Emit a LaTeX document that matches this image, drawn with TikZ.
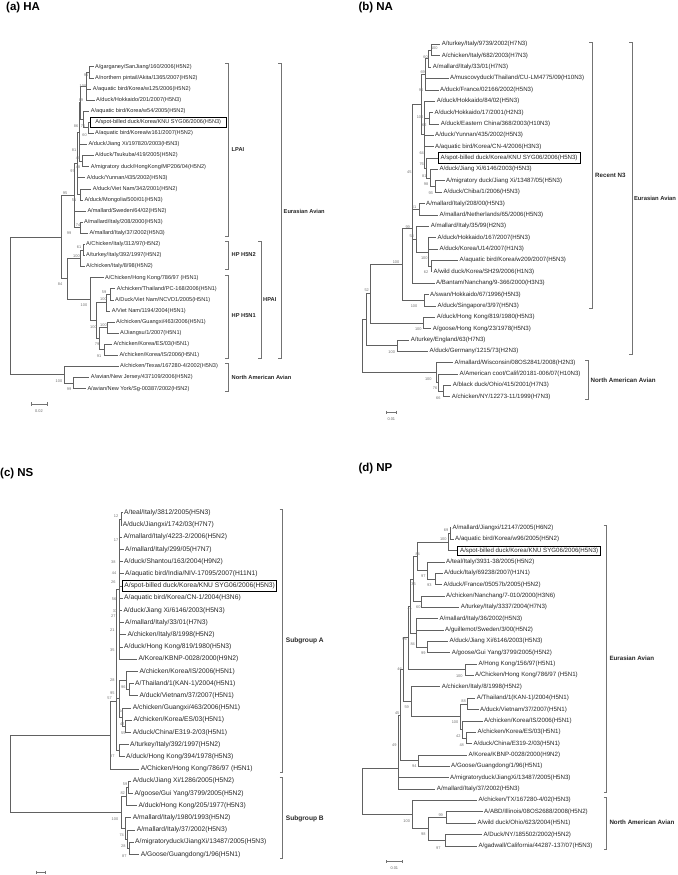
\documentclass[tikz,border=0pt]{standalone}
\usepackage{fontspec}
\setmainfont{Liberation Sans}
\newcounter{bsn}
\newcommand\cl[2]{\foreach \ch in {#2}{\draw[br] (#1) -- (#1 |- \ch) -- (\ch);}}
\newcommand\lv[4]{\node[lf] (#1) at (#2-1.5,#3) {#4};}
\newcommand\bv[3]{\stepcounter{bsn}\node[bs] (bs\arabic{bsn}) at (#1,#2) {#3};}
\newcommand\brk[3]{\draw[brs] (#1-3,#2) -- (#1,#2) -- (#1,#3) -- (#1-3,#3);}
\newcommand\sbar[3]{\draw[brs] (#1,#3) -- (#2,#3); \draw[brs] (#1,#3-1.6) -- (#1,#3+1.6); \draw[brs] (#2,#3-1.6) -- (#2,#3+1.6);}
\begin{document}
\begin{tikzpicture}[x=1pt,y=-1pt,
  br/.style={draw=black!62,line width=0.55pt},
  brs/.style={draw=black!55,line width=0.55pt},
  leaf/.style={anchor=west,inner xsep=1.5pt,inner ysep=0.4pt,text=black!85},
  boxed/.style={draw=black,line width=0.7pt},
  bs/.style={inner sep=0pt,text=black!55,font=\fontsize{3.9}{4}\selectfont},
  cladelbl/.style={anchor=west,inner sep=0pt,text=black!85,font=\bfseries\fontsize{#1}{#1}\selectfont},
  ttl/.style={anchor=base west,inner sep=0pt,font=\bfseries\fontsize{11.5}{12}\selectfont},
  sbl/.style={inner sep=0pt,text=black!60,font=\fontsize{3.9}{4}\selectfont}]
\useasboundingbox (0,0) rectangle (677,875);

% ================= (a) HA =================
\begin{scope}[lf/.style={leaf,font=\fontsize{5.6}{6}\selectfont}]
\node[ttl] (ta) at (6,10.3) {(a) HA};
\lv{a0}{95}{66.7}{A/garganey/SanJiang/160/2006(H5N2)}
\lv{a1}{95}{77.8}{A/northern pintail/Akita/1365/2007(H5N2)}
\lv{a2}{92.7}{88.9}{A/aquatic bird/Korea/w125/2006(H5N2)}
\lv{a3}{96}{100}{A/duck/Hokkaido/201/2007(H5N3)}
\lv{a4}{90.7}{111.1}{A/aquatic bird/Korea/w54/2005(H5N2)}
\node[lf,boxed,inner xsep=5pt,inner ysep=2.7pt] (a5) at (90,122.2) {A/spot-billed duck/Korea/KNU SYG06/2006(H5N3)};
\lv{a6}{95}{133.3}{A/aquatic bird/Korea/w161/2007(H5N2)}
\lv{a7}{88.3}{144.4}{A/duck/Jiang Xi/197820/2003(H5N3)}
\lv{a8}{95}{155.5}{A/duck/Tsukuba/419/2005(H5N2)}
\lv{a9}{90.7}{166.6}{A/migratory duck/HongKong/MP206/04(H5N2)}
\lv{a10}{86.7}{177.7}{A/duck/Yunnan/435/2002(H5N3)}
\lv{a11}{92.7}{188.8}{A/duck/Viet Nam/342/2001(H5N2)}
\lv{a12}{84.3}{199.9}{A/duck/Mongolia/500/01(H5N3)}
\lv{a13}{87.3}{211}{A/mallard/Sweden/64/02(H5N2)}
\lv{a14}{84}{222.1}{A/mallard/Italy/208/2000(H5N3)}
\lv{a15}{89.3}{233.2}{A/mallard/Italy/37/2002(H5N3)}
\lv{a16}{86}{244.3}{A/Chicken/Italy/312/97(H5N2)}
\lv{a17}{86}{255.4}{A/turkey/Italy/392/1997(H5N2)}
\lv{a18}{86}{266.5}{A/chicken/Italy/8/98(H5N2)}
\lv{a19}{105}{277.6}{A/Chicken/Hong Kong/786/97 (H5N1)}
\lv{a20}{116.7}{288.7}{A/chicken/Thailand/PC-168/2006(H5N1)}
\lv{a21}{115}{299.8}{A/Duck/Viet Nam/NCVD1/2005(H5N1)}
\lv{a22}{111.7}{310.9}{A/Viet Nam/1194/2004(H5N1)}
\lv{a23}{116}{322}{A/chicken/Guangxi/463/2006(H5N1)}
\lv{a24}{120}{333.1}{A/Jiangsu/1/2007(H5N1)}
\lv{a25}{113.3}{344.2}{A/chicken/Korea/ES/03(H5N1)}
\lv{a26}{119.3}{355.3}{A/chicken/Korea/IS/2006(H5N1)}
\lv{a27}{120}{366.4}{A/chicken/Texas/167280-4/2002(H5N3)}
\lv{a28}{90.7}{377.5}{A/avian/New Jersey/437109/2006(H5N2)}
\lv{a29}{87.3}{388.6}{A/avian/New York/Sg-00387/2002(H5N2)}
\coordinate (a-n1) at (89,72.25);
\coordinate (a-n2) at (86.5,86.1);
\coordinate (a-k4) at (88,127.75);
\coordinate (a-k) at (83.5,119.4);
\coordinate (a-n3) at (80.5,102.75);
\coordinate (a-t) at (82,161.05);
\coordinate (a-s) at (79,131.9);
\coordinate (a-n5) at (80,194.35);
\coordinate (a-u) at (77.5,163.1);
\coordinate (a-m) at (80.5,227.65);
\coordinate (a-l) at (74.5,195.4);
\coordinate (a-p1) at (83,249.85);
\coordinate (a-p) at (80,258.2);
\coordinate (a-q3a) at (110,294.25);
\coordinate (a-q3) at (106,302.6);
\coordinate (a-q5) at (107,327.55);
\coordinate (a-q6) at (104,349.75);
\coordinate (a-q4) at (99,338.65);
\coordinate (a-q2) at (96,320.6);
\coordinate (a-q) at (90,299.1);
\coordinate (a-h) at (67,278.65);
\coordinate (a-e) at (61,237);
\coordinate (a-na2) at (73,383.05);
\coordinate (a-na) at (64,374.7);
\coordinate (a-r) at (10,305.85);
\cl{a-n1}{a0,a1}
\cl{a-n2}{a-n1,a2,a3}
\cl{a-k4}{a5,a6}
\cl{a-k}{a4,a-k4}
\cl{a-n3}{a-n2,a-k}
\cl{a-t}{a8,a9}
\cl{a-s}{a-n3,a7,a-t}
\cl{a-n5}{a11,a12}
\cl{a-u}{a-s,a10,a-n5}
\cl{a-m}{a14,a15}
\cl{a-l}{a-u,a13,a-m}
\cl{a-p1}{a16,a17}
\cl{a-p}{a-p1,a18}
\cl{a-q3a}{a20,a21}
\cl{a-q3}{a-q3a,a22}
\cl{a-q5}{a23,a24}
\cl{a-q6}{a25,a26}
\cl{a-q4}{a-q5,a-q6}
\cl{a-q2}{a-q3,a-q4}
\cl{a-q}{a19,a-q2}
\cl{a-h}{a-p,a-q}
\cl{a-e}{a-l,a-h}
\cl{a-na2}{a28,a29}
\cl{a-na}{a27,a-na2}
\cl{a-r}{a-e,a-na}
\bv{86}{75}{95}\bv{83}{86}{100}\bv{81}{100}{89}\bv{76}{126}{86}\bv{83}{126}{75}
\bv{84.5}{135}{60}\bv{74}{150}{81}\bv{78}{158}{40}\bv{78}{167}{48}\bv{72.5}{171}{97}
\bv{65}{193}{95}\bv{74}{200}{51}\bv{78}{225}{74}\bv{69}{233}{99}\bv{79}{247}{61}
\bv{76.5}{256}{100}\bv{60}{284}{84}\bv{104}{292}{59}\bv{103.5}{299}{100}\bv{84}{305}{100}
\bv{93.5}{327}{100}\bv{103.5}{325}{100}\bv{97}{344}{79}\bv{99}{356}{91}\bv{59}{381}{100}\bv{69}{389}{99}
\brk{228}{63}{236}\node[cladelbl=5.7] (a-lpai) at (231.5,150) {LPAI};
\brk{228}{241}{269}\node[cladelbl=5.7] (a-h5n2) at (231.5,255) {HP H5N2};
\brk{228}{275}{358}\node[cladelbl=5.7] (a-h5n1) at (231.5,316) {HP H5N1};
\brk{261}{241}{358}\node[cladelbl=5.7] (a-hpai) at (263,300) {HPAI};
\brk{281}{63}{358}\node[cladelbl=5.7] (a-eur) at (283.5,211) {Eurasian Avian};
\brk{228}{363}{391}\node[cladelbl=5.7] (a-nam) at (231.5,377.7) {North American Avian};
\sbar{31}{47}{404}\node[sbl] (a-sb) at (39,411.5) {0.02};
\end{scope}

% ================= (b) NA =================
\begin{scope}[lf/.style={leaf,font=\fontsize{6.1}{6.5}\selectfont}]
\node[ttl] (tb) at (358.3,10.3) {(b) NA};
\lv{b0}{441.7}{44.3}{A/turkey/Italy/9739/2002(H7N3)}
\lv{b1}{441.7}{55.67}{A/chicken/Italy/682/2003(H7N3)}
\lv{b2}{432.7}{67.04}{A/mallard/Italy/33/01(H7N3)}
\lv{b3}{450}{78.41}{A/muscovyduck/Thailand/CU-LM4775/09(H10N3)}
\lv{b4}{440}{89.78}{A/duck/France/02166/2002(H5N3)}
\lv{b5}{436.7}{101.15}{A/duck/Hokkaido/84/02(H5N3)}
\lv{b6}{434.3}{112.52}{A/duck/Hokkaido/17/2001(H2N3)}
\lv{b7}{440.7}{123.89}{A/duck/Eastern China/368/2003(H10N3)}
\lv{b8}{435}{135.26}{A/duck/Yunnan/435/2002(H5N3)}
\lv{b9}{435}{146.63}{A/aquatic bird/Korea/CN-4/2006(H3N3)}
\node[lf,boxed,inner xsep=2.5pt,inner ysep=2.9pt] (b10) at (437.7,158) {A/spot-billed duck/Korea/KNU SYG06/2006(H5N3)};
\lv{b11}{439.3}{169.37}{A/duck/Jiang Xi/6146/2003(H5N3)}
\lv{b12}{446}{180.74}{A/migratory duck/Jiang Xi/13487/05(H5N3)}
\lv{b13}{443.3}{192.11}{A/duck/Chiba/1/2006(H5N3)}
\lv{b14}{426}{203.48}{A/mallard/Italy/208/00(H5N3)}
\lv{b15}{439.3}{214.85}{A/mallard/Netherlands/65/2006(H5N3)}
\lv{b16}{430.7}{226.22}{A/mallard/Italy/35/99(H2N3)}
\lv{b17}{437.3}{237.59}{A/duck/Hokkaido/167/2007(H5N3)}
\lv{b18}{439.3}{248.96}{A/duck/Korea/U14/2007(H1N3)}
\lv{b19}{459.3}{260.33}{A/aquatic bird/Korea/w209/2007(H5N3)}
\lv{b20}{433.3}{271.7}{A/wild duck/Korea/SH29/2006(H1N3)}
\lv{b21}{436}{283.07}{A/Bantam/Nanchang/9-366/2000(H3N3)}
\lv{b22}{430}{294.44}{A/swan/Hokkaido/67/1996(H5N3)}
\lv{b23}{437.3}{305.81}{A/duck/Singapore/3/97(H5N3)}
\lv{b24}{436.7}{317.18}{A/duck/Hong Kong/819/1980(H5N3)}
\lv{b25}{432.7}{328.55}{A/goose/Hong Kong/23/1978(H5N3)}
\lv{b26}{410.7}{339.92}{A/turkey/England/63(H7N3)}
\lv{b27}{429.3}{351.29}{A/duck/Germany/1215/73(H2N3)}
\lv{b28}{454.3}{362.66}{A/mallard/Wisconsin/08OS2841/2008(H2N3)}
\lv{b29}{459.3}{374.03}{A/American coot/Calif/20181-006/07(H10N3)}
\lv{b30}{452.7}{385.4}{A/black duck/Ohio/415/2001(H7N3)}
\lv{b31}{451.7}{396.77}{A/chicken/NY/12273-11/1999(H7N3)}
\coordinate (b-p0) at (431,49.99);
\coordinate (b-p1) at (428,58.5);
\coordinate (b-p2) at (425.5,74.1);
\coordinate (b-h) at (429.5,118.2);
\coordinate (b-f6) at (435,186.4);
\coordinate (b-f5) at (430,177.9);
\coordinate (b-f4) at (426,167.95);
\coordinate (b-f3) at (424,134.55);
\coordinate (b-f2) at (421.7,104.3);
\coordinate (b-mp) at (419.3,209.2);
\coordinate (b-j2) at (431,266);
\coordinate (b-j) at (428,251.8);
\coordinate (b-k) at (416,239);
\coordinate (b-c) at (412,228);
\coordinate (b-d) at (424,300.1);
\coordinate (b-b) at (402,264);
\coordinate (b-hk) at (423.3,322.9);
\coordinate (b-ea2) at (370.7,293.4);
\coordinate (b-eng) at (397.3,345.6);
\coordinate (b-ea) at (366.7,319.5);
\coordinate (b-na3) at (443,391.1);
\coordinate (b-na2) at (438,382.6);
\coordinate (b-na) at (436,372.6);
\coordinate (b-r) at (362.7,346);
\cl{b-p0}{b0,b1}
\cl{b-p1}{b-p0,b2}
\cl{b-p2}{b-p1,b3,b4}
\cl{b-h}{b6,b7}
\cl{b-f6}{b12,b13}
\cl{b-f5}{b11,b-f6}
\cl{b-f4}{b10,b-f5}
\cl{b-f3}{b5,b-h,b8,b9,b-f4}
\cl{b-f2}{b-p2,b-f3}
\cl{b-mp}{b14,b15}
\cl{b-j2}{b19,b20}
\cl{b-j}{b17,b18,b-j2}
\cl{b-k}{b16,b-j}
\cl{b-c}{b-f2,b-mp,b-k,b21}
\cl{b-d}{b22,b23}
\cl{b-b}{b-c,b-d}
\cl{b-hk}{b24,b25}
\cl{b-ea2}{b-b,b-hk}
\cl{b-eng}{b26,b27}
\cl{b-ea}{b-ea2,b-eng}
\cl{b-na3}{b30,b31}
\cl{b-na2}{b29,b-na3}
\cl{b-na}{b28,b-na2}
\cl{b-r}{b-ea,b-na}
\bv{434.3}{47.7}{100}\bv{425.5}{56.7}{60}\bv{422.7}{71.7}{69}\bv{421}{90}{95}\bv{420}{116.7}{100}
\bv{424.3}{125}{62}\bv{421.7}{152.7}{64}\bv{421.7}{164}{76}\bv{409.3}{171.7}{45}\bv{424.3}{175.7}{81}
\bv{426}{184.3}{98}\bv{430.7}{192.7}{93}\bv{414}{206.7}{61}\bv{407.7}{226.7}{99}\bv{411.7}{236}{58}
\bv{424.3}{258.3}{100}\bv{426}{271.7}{62}\bv{396}{262.3}{100}\bv{366.7}{290}{52}\bv{414}{305.7}{100}
\bv{418.3}{329.3}{100}\bv{391.7}{351.7}{100}\bv{428.3}{379}{100}\bv{435}{388.3}{76}\bv{438.3}{397.7}{66}
\brk{592.3}{42.3}{308.3}\node[cladelbl=6.2] (b-rn3) at (595,175.7) {Recent N3};
\brk{632.3}{42.3}{354}\node[cladelbl=5.85] (b-eur) at (633.8,198.3) {Eurasian Avian};
\brk{588.3}{360}{399.3}\node[cladelbl=6.2] (b-nam) at (590.5,380) {North American Avian};
\sbar{386}{396.7}{412.3}\node[sbl] (b-sb) at (391.3,419.5) {0.01};
\end{scope}

% ================= (c) NS =================
\begin{scope}[lf/.style={leaf,font=\fontsize{6.7}{7}\selectfont}]
\node[ttl] (tc) at (0,476.7) {(c) NS};
\lv{c0}{124}{512.7}{A/teal/Italy/3812/2005(H5N3)}
\lv{c1}{122.7}{524.9}{A/duck/Jiangxi/1742/03(H7N7)}
\lv{c2}{123.3}{537.1}{A/mallard/Italy/4223-2/2006(H5N2)}
\lv{c3}{125}{549.3}{A/mallard/Italy/299/05(H7N7)}
\lv{c4}{124}{561.5}{A/duck/Shantou/163/2004(H9N2)}
\lv{c5}{125}{573.7}{A/aquatic bird/India/NIV-17095/2007(H11N1)}
\node[lf,boxed,inner xsep=1.8pt,inner ysep=2.2pt] (c6) at (122.3,585.9) {A/spot-billed duck/Korea/KNU SYG06/2006(H5N3)};
\lv{c7}{124}{598.1}{A/aquatic bird/Korea/CN-1/2004(H3N6)}
\lv{c8}{123.3}{610.3}{A/duck/Jiang Xi/6146/2003(H5N3)}
\lv{c9}{125}{622.5}{A/mallard/Italy/33/01(H7N3)}
\lv{c10}{127.3}{634.7}{A/chicken/Italy/8/1998(H5N2)}
\lv{c11}{124}{646.9}{A/duck/Hong Kong/819/1980(H5N3)}
\lv{c12}{138.3}{659.1}{A/Korea/KBNP-0028/2000(H9N2)}
\lv{c13}{139.3}{671.3}{A/chicken/Korea/IS/2006(H5N1)}
\lv{c14}{135}{683.5}{A/Thailand/1(KAN-1)/2004(H5N1)}
\lv{c15}{139.3}{695.7}{A/duck/Vietnam/37/2007(H5N1)}
\lv{c16}{132.7}{707.9}{A/chicken/Guangxi/463/2006(H5N1)}
\lv{c17}{133.3}{720.1}{A/chicken/Korea/ES/03(H5N1)}
\lv{c18}{132.7}{732.3}{A/duck/China/E319-2/03(H5N1)}
\lv{c19}{130}{744.5}{A/turkey/Italy/392/1997(H5N2)}
\lv{c20}{126}{756.7}{A/duck/Hong Kong/394/1978(H5N3)}
\lv{c21}{140.7}{768.9}{A/Chicken/Hong Kong/786/97 (H5N1)}
\lv{c22}{132.7}{781.1}{A/duck/Jiang Xi/1286/2005(H5N2)}
\lv{c23}{134.3}{793.3}{A/goose/Gui Yang/3799/2005(H5N2)}
\lv{c24}{138.3}{805.5}{A/duck/Hong Kong/205/1977(H5N3)}
\lv{c25}{132.7}{817.7}{A/mallard/Italy/1980/1993(H5N2)}
\lv{c26}{136.7}{829.9}{A/mallard/Italy/37/2002(H5N3)}
\lv{c27}{135}{842.1}{A/migratoryduck/JiangXi/13487/2005(H5N3)}
\lv{c28}{140.7}{854.3}{A/Goose/Guangdong/1/96(H5N1)}
\coordinate (c-c1) at (121,518.8);
\coordinate (c-ct) at (119,589);
\coordinate (c-h1) at (129.5,689.6);
\coordinate (c-h2) at (126,680.45);
\coordinate (c-h3) at (125,726.2);
\coordinate (c-h4) at (122,717.05);
\coordinate (c-h5) at (119.5,698.75);
\coordinate (c-a4) at (119,750.6);
\coordinate (c-a1) at (116,701.7);
\coordinate (c-a) at (110,735.3);
\coordinate (c-b1a) at (128.3,787.2);
\coordinate (c-b1) at (126.7,796.35);
\coordinate (c-b2c) at (129,848.2);
\coordinate (c-b2b) at (127,839.05);
\coordinate (c-b2) at (125.5,828.4);
\coordinate (c-b) at (121.7,812.4);
\coordinate (c-r) at (10.7,773.85);
\cl{c-c1}{c0,c1}
\cl{c-ct}{c-c1,c2,c3,c4,c5,c6,c7,c8,c9,c10,c11,c12}
\cl{c-h1}{c14,c15}
\cl{c-h2}{c13,c-h1}
\cl{c-h3}{c17,c18}
\cl{c-h4}{c16,c-h3}
\cl{c-h5}{c-h2,c-h4}
\cl{c-a4}{c19,c20}
\cl{c-a1}{c-ct,c-h5,c-a4}
\cl{c-a}{c-a1,c21}
\cl{c-b1a}{c22,c23}
\cl{c-b1}{c-b1a,c24}
\cl{c-b2c}{c27,c28}
\cl{c-b2b}{c26,c-b2c}
\cl{c-b2}{c25,c-b2b}
\cl{c-b}{c-b1,c-b2}
\cl{c-r}{c-a,c-b}
\bv{116}{516}{12}\bv{116}{540}{17}\bv{113.3}{561.7}{38}\bv{114}{573.3}{44}\bv{113.3}{581.7}{26}
\bv{114}{599.3}{56}\bv{115}{610.7}{33}\bv{113.3}{616}{27}\bv{112.3}{630}{21}\bv{112.3}{650}{35}
\bv{112.3}{680}{28}\bv{123.3}{686.7}{96}\bv{112.3}{693.3}{95}\bv{109.5}{698.3}{57}\bv{121.2}{710.7}{64}
\bv{122.2}{724}{42}\bv{123.3}{733.3}{55}\bv{112.3}{756}{87}\bv{125}{784.3}{59}\bv{122.7}{793.3}{82}
\bv{115}{819.3}{100}\bv{121.7}{835}{74}\bv{123.3}{846}{28}\bv{124.3}{856}{87}
\brk{282.7}{509}{772.3}\node[cladelbl=6.6] (c-sga) at (285.7,641) {Subgroup A};
\brk{282.7}{777.7}{858.3}\node[cladelbl=6.6] (c-sgb) at (285.7,818.3) {Subgroup B};
\sbar{36}{45}{872.3}
\end{scope}

% ================= (d) NP =================
\begin{scope}[lf/.style={leaf,font=\fontsize{6.15}{6.5}\selectfont}]
\node[ttl] (td) at (358.3,471) {(d) NP};
\lv{d0}{452.3}{527.7}{A/mallard/Jiangxi/12147/2005(H6N2)}
\lv{d1}{455}{539.06}{A/aquatic bird/Korea/w96/2005(H5N2)}
\node[lf,boxed,inner xsep=2.5pt,inner ysep=1.7pt] (d2) at (457.3,550.42) {A/spot-billed duck/Korea/KNU SYG06/2006(H5N3)};
\lv{d3}{446}{561.78}{A/teal/Italy/3931-38/2005(H5N2)}
\lv{d4}{444}{573.14}{A/duck/Italy/69238/2007(H1N1)}
\lv{d5}{443.3}{584.5}{A/duck/France/05057b/2005(H5N2)}
\lv{d6}{446}{595.86}{A/chicken/Nanchang/7-010/2000(H3N6)}
\lv{d7}{460.7}{607.22}{A/turkey/Italy/3337/2004(H7N3)}
\lv{d8}{439.3}{618.58}{A/mallard/Italy/36/2002(H5N3)}
\lv{d9}{445}{629.94}{A/guillemot/Sweden/3/00(H5N2)}
\lv{d10}{449.3}{641.3}{A/duck/Jiang Xi/6146/2003(H5N3)}
\lv{d11}{451.7}{652.66}{A/goose/Gui Yang/3799/2005(H5N2)}
\lv{d12}{478.3}{664.02}{A/Hong Kong/156/97(H5N1)}
\lv{d13}{475}{675.38}{A/Chicken/Hong Kong/786/97 (H5N1)}
\lv{d14}{441.7}{686.74}{A/chicken/Italy/8/1998(H5N2)}
\lv{d15}{476.7}{698.1}{A/Thailand/1(KAN-1)/2004(H5N1)}
\lv{d16}{480}{709.46}{A/duck/Vietnam/37/2007(H5N1)}
\lv{d17}{484}{720.82}{A/chicken/Korea/IS/2006(H5N1)}
\lv{d18}{477.3}{732.18}{A/chicken/Korea/ES/03(H5N1)}
\lv{d19}{473.3}{743.54}{A/duck/China/E319-2/03(H5N1)}
\lv{d20}{468.3}{754.9}{A/Korea/KBNP-0028/2000(H9N2)}
\lv{d21}{451}{766.26}{A/Goose/Guangdong/1/96(H5N1)}
\lv{d22}{450}{777.62}{A/migratoryduck/JiangXi/13487/2005(H5N3)}
\lv{d23}{436.7}{788.98}{A/mallard/Italy/37/2002(H5N3)}
\lv{d24}{478.3}{800.34}{A/chicken/TX/167280-4/02(H5N3)}
\lv{d25}{484}{811.7}{A/ABD/Illinois/08OS2688/2008(H5N2)}
\lv{d26}{477.3}{823.06}{A/wild duck/Ohio/623/2004(H5N1)}
\lv{d27}{483.3}{834.42}{A/Duck/NY/185502/2002(H5N2)}
\lv{d28}{478.3}{845.78}{A/gadwall/California/44287-137/07(H5N3)}
\coordinate (d-u1) at (450,533.38);
\coordinate (d-u2) at (448.3,541.9);
\coordinate (d-u5) at (435,578.82);
\coordinate (d-u4) at (427.3,570.3);
\coordinate (d-u6) at (417.3,556.1);
\coordinate (d-u8) at (421.7,601.54);
\coordinate (d-u7) at (413,578.82);
\coordinate (d-jx) at (427.3,646.98);
\coordinate (d-u10) at (416,632.78);
\coordinate (d-u9) at (410.7,605.8);
\coordinate (d-hk) at (465,669.7);
\coordinate (d-eu2) at (408.3,637.75);
\coordinate (d-l1) at (467,703.78);
\coordinate (d-l2) at (466,737.86);
\coordinate (d-l3) at (462.5,729.34);
\coordinate (d-l4) at (460,716.56);
\coordinate (d-l5) at (411.7,701.65);
\coordinate (d-eb) at (403,669.7);
\coordinate (d-kb) at (418.3,760.58);
\coordinate (d-ea) at (400.5,715.14);
\coordinate (d-eu) at (398,768.3);
\coordinate (d-n4) at (446,817.38);
\coordinate (d-n3) at (445,840.1);
\coordinate (d-n2) at (428.3,828.74);
\coordinate (d-n1) at (412.7,814.54);
\coordinate (d-r) at (362.7,791.4);
\cl{d-u1}{d0,d1}
\cl{d-u2}{d-u1,d2}
\cl{d-u5}{d4,d5}
\cl{d-u4}{d3,d-u5}
\cl{d-u6}{d-u2,d-u4}
\cl{d-u8}{d6,d7}
\cl{d-u7}{d-u6,d-u8}
\cl{d-jx}{d10,d11}
\cl{d-u10}{d8,d9,d-jx}
\cl{d-u9}{d-u7,d-u10}
\cl{d-hk}{d12,d13}
\cl{d-eu2}{d-u9,d-hk}
\cl{d-l1}{d15,d16}
\cl{d-l2}{d18,d19}
\cl{d-l3}{d17,d-l2}
\cl{d-l4}{d-l1,d-l3}
\cl{d-l5}{d14,d-l4}
\cl{d-eb}{d-eu2,d-l5}
\cl{d-kb}{d20,d21}
\cl{d-ea}{d-eb,d-kb}
\cl{d-eu}{d-ea,d22,d23}
\cl{d-n4}{d25,d26}
\cl{d-n3}{d27,d28}
\cl{d-n2}{d-n4,d-n3}
\cl{d-n1}{d24,d-n2}
\cl{d-r}{d-eu,d-n1}
\bv{446}{530}{69}\bv{443.3}{539}{100}\bv{417.7}{554}{84}\bv{423.3}{576}{97}\bv{429.3}{585}{93}
\bv{413.5}{584.3}{35}\bv{418.3}{607.3}{60}\bv{409.5}{610}{77}\bv{404.5}{639}{96}\bv{412.7}{644.3}{84}
\bv{423.3}{653.3}{99}\bv{459.3}{675.7}{100}\bv{399.5}{669}{46}\bv{406.7}{707.3}{59}\bv{397.2}{713.3}{45}
\bv{463.5}{701}{88}\bv{455}{722.3}{100}\bv{458.3}{735.7}{42}\bv{394.3}{745}{49}\bv{461.7}{745}{48}
\bv{414.3}{766}{94}\bv{406.7}{820.7}{100}\bv{440.7}{815}{99}\bv{423.3}{834.3}{98}\bv{438.3}{847.7}{97}
\brk{606.7}{525}{792.3}\node[cladelbl=6.2] (d-eur) at (609.3,658.3) {Eurasian Avian};
\brk{606.7}{797.3}{849}\node[cladelbl=6.2] (d-nam) at (609.3,822.7) {North American Avian};
\sbar{386}{402.7}{861.7}\node[sbl] (d-sb) at (394.3,868.5) {0.01};
\end{scope}
\end{tikzpicture}
\end{document}
